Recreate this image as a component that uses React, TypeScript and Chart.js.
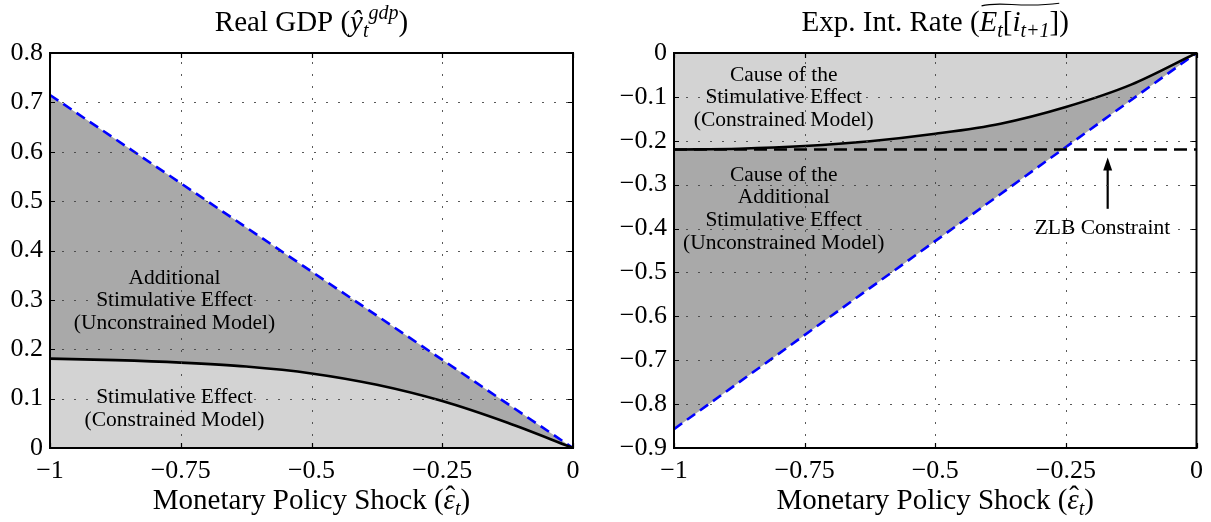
import React, { useEffect, useRef } from "react";
import { Chart, registerables } from "chart.js";

Chart.register(...registerables);

// ---------- DATA ----------
const shockGrid = [-1, -0.875, -0.75, -0.625, -0.5, -0.375, -0.25, -0.125, 0];

// Real GDP
const gdpConstrained = [0.181, 0.178, 0.173, 0.165, 0.151, 0.128, 0.095, 0.051, 0];
const gdpUnconstrainedX = [-1, 0];
const gdpUnconstrained = [0.715, 0];

// Expected interest rate
const rateConstrained = [-0.22, -0.218, -0.212, -0.201, -0.184, -0.161, -0.123, -0.072, 0];
const rateUnconstrainedX = [-1, 0];
const rateUnconstrained = [-0.857, 0];
const zlbX = [-1, 0];
const zlbLevel = [-0.22, -0.22];

// ticks
const xTicks = [-1, -0.75, -0.5, -0.25, 0];
const xTickLabels = ["\u22121", "\u22120.75", "\u22120.5", "\u22120.25", "0"];
const gdpYTicks = [0, 0.1, 0.2, 0.3, 0.4, 0.5, 0.6, 0.7, 0.8];
const gdpYTickLabels = ["0", "0.1", "0.2", "0.3", "0.4", "0.5", "0.6", "0.7", "0.8"];
const rateYTicks = [-0.9, -0.8, -0.7, -0.6, -0.5, -0.4, -0.3, -0.2, -0.1, 0];
const rateYTickLabels = ["\u22120.9", "\u22120.8", "\u22120.7", "\u22120.6", "\u22120.5", "\u22120.4", "\u22120.3", "\u22120.2", "\u22120.1", "0"];

// annotation texts (data coordinates: x, y)
const gdpNotes = [
  { text: "Additional", x: -0.762, y: 0.344 },
  { text: "Stimulative Effect", x: -0.762, y: 0.299 },
  { text: "(Unconstrained Model)", x: -0.762, y: 0.253 },
  { text: "Stimulative Effect", x: -0.762, y: 0.102 },
  { text: "(Constrained Model)", x: -0.762, y: 0.056 },
];
const rateNotes = [
  { text: "Cause of the", x: -0.79, y: -0.05 },
  { text: "Stimulative Effect", x: -0.79, y: -0.102 },
  { text: "(Constrained Model)", x: -0.79, y: -0.153 },
  { text: "Cause of the", x: -0.79, y: -0.278 },
  { text: "Additional", x: -0.79, y: -0.329 },
  { text: "Stimulative Effect", x: -0.79, y: -0.381 },
  { text: "(Unconstrained Model)", x: -0.79, y: -0.433 },
  { text: "ZLB Constraint", x: -0.18, y: -0.4 },
];
const zlbArrow = { x: -0.17, yFrom: -0.355, yTo: -0.238 };

// ---------- STYLE ----------
const SERIF = '"Liberation Serif", "Times New Roman", serif';
const LIGHT = "#d3d3d3";
const DARK = "#a9a9a9";
const BLUE = "#0000ff";

type Seg = { t: string; it?: boolean; sub?: boolean; sup?: boolean; hat?: boolean; tildeStart?: boolean; tildeEnd?: boolean };

function drawRich(ctx: CanvasRenderingContext2D, segs: Seg[], cx: number, baseline: number, size: number) {
  const fontFor = (s: Seg) => `${s.it ? "italic " : ""}${s.sub || s.sup ? Math.round(size * 0.7) : size}px ${SERIF}`;
  let total = 0;
  const widths = segs.map((s) => {
    ctx.font = fontFor(s);
    const w = ctx.measureText(s.t).width;
    total += w;
    return w;
  });
  let x = cx - total / 2;
  let tildeX0 = 0;
  ctx.save();
  ctx.fillStyle = "#000";
  ctx.textAlign = "left";
  ctx.textBaseline = "alphabetic";
  segs.forEach((s, i) => {
    ctx.font = fontFor(s);
    const dy = s.sub ? size * 0.22 : s.sup ? -size * 0.4 : 0;
    if (s.tildeStart) tildeX0 = x;
    ctx.fillText(s.t, x, baseline + dy);
    if (s.hat) {
      ctx.textAlign = "center";
      ctx.font = `${size}px ${SERIF}`;
      ctx.fillText("\u02C6", x + widths[i] / 2 + size * 0.04, baseline - size * 0.12);
      ctx.textAlign = "left";
    }
    x += widths[i];
    if (s.tildeEnd) {
      const x0 = tildeX0 + 2;
      const x1 = x;
      const yT = baseline - size * 0.92;
      const amp = size * 0.09;
      ctx.beginPath();
      ctx.lineWidth = 1.1;
      ctx.strokeStyle = "#000";
      ctx.moveTo(x0, yT + amp * 0.6);
      ctx.bezierCurveTo(x0 + (x1 - x0) * 0.25, yT - amp * 1.4, x0 + (x1 - x0) * 0.5, yT + amp * 1.6, x1, yT - amp * 0.4);
      ctx.stroke();
    }
  });
  ctx.restore();
}

type Note = { text: string; x: number; y: number };

function makeOverlay(title: Seg[], notes: Note[], arrow?: { x: number; yFrom: number; yTo: number }) {
  return {
    id: "overlay",
    afterDatasetsDraw(chart: any) {
      const ctx: CanvasRenderingContext2D = chart.ctx;
      const xs = chart.scales.x;
      const ys = chart.scales.y;
      const ca = chart.chartArea;
      ctx.save();
      // annotation texts
      ctx.fillStyle = "#000";
      ctx.font = `21.5px ${SERIF}`;
      ctx.textAlign = "center";
      ctx.textBaseline = "middle";
      notes.forEach((n) => ctx.fillText(n.text, xs.getPixelForValue(n.x), ys.getPixelForValue(n.y)));
      // arrow
      if (arrow) {
        const ax = xs.getPixelForValue(arrow.x);
        const y0 = ys.getPixelForValue(arrow.yFrom);
        const y1 = ys.getPixelForValue(arrow.yTo);
        ctx.strokeStyle = "#000";
        ctx.lineWidth = 2.2;
        ctx.beginPath();
        ctx.moveTo(ax, y0);
        ctx.lineTo(ax, y1 + 10);
        ctx.stroke();
        ctx.beginPath();
        ctx.moveTo(ax, y1);
        ctx.lineTo(ax - 4.5, y1 + 13);
        ctx.lineTo(ax + 4.5, y1 + 13);
        ctx.closePath();
        ctx.fillStyle = "#000";
        ctx.fill();
      }
      // dotted grid on top
      ctx.strokeStyle = "rgba(60,60,60,0.85)";
      ctx.lineWidth = 1;
      ctx.setLineDash([2, 10]);
      xs.ticks.forEach((t: any) => {
        const px = Math.round(xs.getPixelForValue(t.value)) + 0.5;
        if (px < ca.left + 2 || px > ca.right - 2) return;
        ctx.beginPath();
        ctx.moveTo(px, ca.bottom);
        ctx.lineTo(px, ca.top);
        ctx.stroke();
      });
      ys.ticks.forEach((t: any) => {
        const py = Math.round(ys.getPixelForValue(t.value)) + 0.5;
        if (py < ca.top + 2 || py > ca.bottom - 2) return;
        ctx.beginPath();
        ctx.moveTo(ca.left, py);
        ctx.lineTo(ca.right, py);
        ctx.stroke();
      });
      ctx.setLineDash([]);
      // small inward tick marks on all sides
      ctx.strokeStyle = "#000";
      ctx.lineWidth = 1.2;
      const tl = 5;
      xs.ticks.forEach((t: any) => {
        const px = Math.round(xs.getPixelForValue(t.value)) + 0.5;
        ctx.beginPath();
        ctx.moveTo(px, ca.bottom);
        ctx.lineTo(px, ca.bottom - tl);
        ctx.moveTo(px, ca.top);
        ctx.lineTo(px, ca.top + tl);
        ctx.stroke();
      });
      ys.ticks.forEach((t: any) => {
        const py = Math.round(ys.getPixelForValue(t.value)) + 0.5;
        ctx.beginPath();
        ctx.moveTo(ca.left, py);
        ctx.lineTo(ca.left + tl, py);
        ctx.moveTo(ca.right, py);
        ctx.lineTo(ca.right - tl, py);
        ctx.stroke();
      });
      // box
      ctx.lineWidth = 2;
      ctx.strokeRect(ca.left, ca.top, ca.right - ca.left, ca.bottom - ca.top);
      ctx.restore();

      // title
      const cx = (ca.left + ca.right) / 2;
      drawRich(ctx, title, cx, 31, 29);
      // x-axis title
      drawRich(
        ctx,
        [{ t: "Monetary Policy Shock (" }, { t: "\u03B5", it: true, hat: true }, { t: "t", it: true, sub: true }, { t: ")" }],
        cx,
        509,
        29
      );
    },
  };
}

function baseOptions(yTicks: number[], yLabels: string[], yMin: number, yMax: number, yAxisWidth: number, padRight: number) {
  return {
    responsive: false,
    animation: false as const,
    events: [],
    layout: { padding: { top: 53, bottom: 0, left: 0, right: padRight } },
    plugins: { legend: { display: false }, tooltip: { enabled: false }, title: { display: false } },
    elements: { point: { radius: 0 } },
    scales: {
      x: {
        type: "linear" as const,
        min: -1,
        max: 0,
        grid: { display: false, drawTicks: false },
        border: { display: false },
        afterBuildTicks: (s: any) => {
          s.ticks = xTicks.map((v) => ({ value: v }));
        },
        afterFit: (s: any) => {
          s.height = 74;
        },
        ticks: {
          autoSkip: false,
          maxRotation: 0,
          padding: 8,
          color: "#000",
          font: { family: SERIF, size: 26 },
          callback: (_v: any, i: number) => xTickLabels[i],
        },
      },
      y: {
        type: "linear" as const,
        min: yMin,
        max: yMax,
        grid: { display: false, drawTicks: false },
        border: { display: false },
        afterBuildTicks: (s: any) => {
          s.ticks = yTicks.map((v) => ({ value: v }));
        },
        afterFit: (s: any) => {
          s.width = yAxisWidth;
        },
        ticks: {
          autoSkip: false,
          padding: 7,
          color: "#000",
          font: { family: SERIF, size: 26 },
          callback: (_v: any, i: number) => yLabels[i],
        },
      },
    },
  };
}

function GdpChart() {
  const ref = useRef<HTMLCanvasElement>(null);
  useEffect(() => {
    const chart = new Chart(ref.current as HTMLCanvasElement, {
      type: "line",
      data: {
        datasets: [
          {
            data: shockGrid.map((x, i) => ({ x, y: gdpConstrained[i] })),
            borderColor: "#000",
            borderWidth: 2.6,
            backgroundColor: LIGHT,
            fill: "origin",
            cubicInterpolationMode: "monotone",
          },
          {
            data: gdpUnconstrainedX.map((x, i) => ({ x, y: gdpUnconstrained[i] })),
            borderColor: BLUE,
            borderWidth: 2.6,
            borderDash: [10, 6],
            backgroundColor: DARK,
            fill: 0,
          },
        ],
      } as any,
      options: baseOptions(gdpYTicks, gdpYTickLabels, 0, 0.8, 50, 32) as any,
      plugins: [
        makeOverlay(
          [{ t: "Real GDP (" }, { t: "\u0177", it: true }, { t: "t", it: true, sub: true }, { t: "gdp", it: true, sup: true }, { t: ")" }],
          gdpNotes
        ),
      ],
    });
    return () => chart.destroy();
  }, []);
  return <canvas ref={ref} width={605} height={522} style={{ position: "absolute", left: 0, top: 0, width: 605, height: 522 }} />;
}

function RateChart() {
  const ref = useRef<HTMLCanvasElement>(null);
  useEffect(() => {
    const chart = new Chart(ref.current as HTMLCanvasElement, {
      type: "line",
      data: {
        datasets: [
          {
            data: zlbX.map((x, i) => ({ x, y: zlbLevel[i] })),
            borderColor: "#000",
            borderWidth: 2.4,
            borderDash: [13, 7],
            fill: false,
          },
          {
            data: shockGrid.map((x, i) => ({ x, y: rateConstrained[i] })),
            borderColor: "#000",
            borderWidth: 2.6,
            backgroundColor: LIGHT,
            fill: { value: 0 },
            cubicInterpolationMode: "monotone",
          },
          {
            data: rateUnconstrainedX.map((x, i) => ({ x, y: rateUnconstrained[i] })),
            borderColor: BLUE,
            borderWidth: 2.6,
            borderDash: [10, 6],
            backgroundColor: DARK,
            fill: 1,
          },
        ],
      } as any,
      options: baseOptions(rateYTicks, rateYTickLabels, -0.9, 0, 69, 12) as any,
      plugins: [
        makeOverlay(
          [
            { t: "Exp. Int. Rate (" },
            { t: "E", it: true, tildeStart: true },
            { t: "t", it: true, sub: true },
            { t: "[" },
            { t: "i", it: true },
            { t: "t+1", it: true, sub: true },
            { t: "]", tildeEnd: true },
            { t: ")" },
          ],
          rateNotes,
          zlbArrow
        ),
      ],
    });
    return () => chart.destroy();
  }, []);
  return <canvas ref={ref} width={606} height={522} style={{ position: "absolute", left: 605, top: 0, width: 606, height: 522 }} />;
}

export default function App() {
  return (
    <div style={{ position: "absolute", left: 0, top: 0, width: 1211, height: 522, background: "#fff" }}>
      <GdpChart />
      <RateChart />
    </div>
  );
}
